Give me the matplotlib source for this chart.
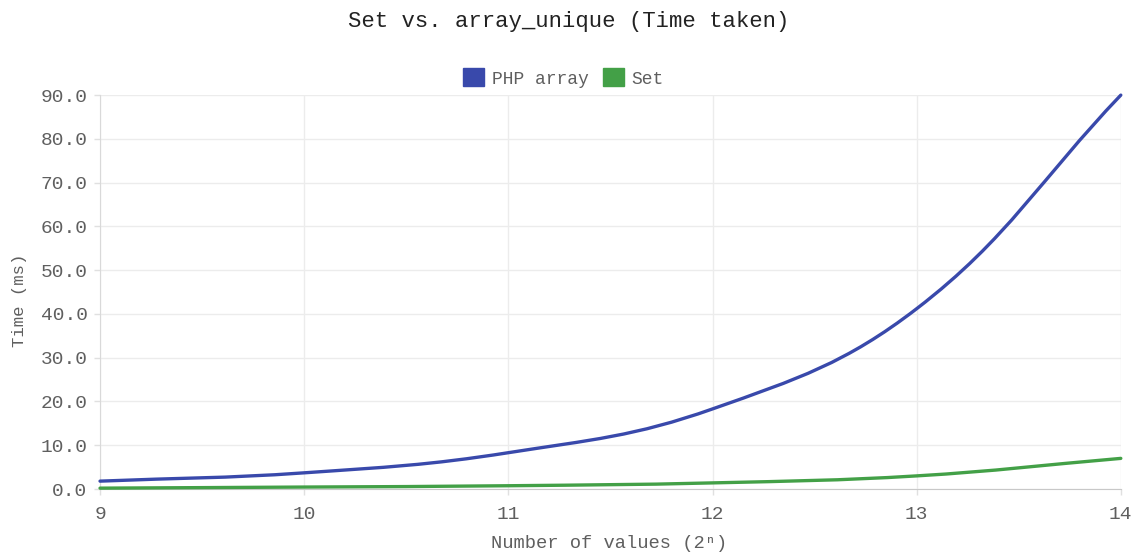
import numpy as np
import matplotlib
matplotlib.use("Agg")
import matplotlib.pyplot as plt
from matplotlib.path import Path
from matplotlib.patches import PathPatch, Patch

# Benchmark results: exponent n (2^n values) vs time in ms
exponents = [9, 10, 11, 12, 13, 14]
php_array_ms = [1.8, 3.7, 8.3, 18.3, 41.2, 90.0]
set_ms = [0.2, 0.45, 0.75, 1.4, 3.0, 7.0]

series_names = ["PHP array", "Set"]
series_colors = ["#3949AB", "#43A047"]
y_ticks = [0, 10, 20, 30, 40, 50, 60, 70, 80, 90]

mono = ["Liberation Mono", "DejaVu Sans Mono"]
plt.rcParams["font.family"] = mono
text_grey = "#5f5f5f"

fig = plt.figure(figsize=(11.38, 5.53), dpi=100)
ax = fig.add_axes([0.0879, 0.1157, 0.897, 0.7123])
ax.set_xlim(exponents[0], exponents[-1])
ax.set_ylim(0, 90)
ax.set_xticks(exponents)
ax.set_yticks(y_ticks)
ax.set_yticklabels([f"{v:.1f}" for v in y_ticks])

for s in ["top", "right"]:
    ax.spines[s].set_visible(False)
ax.spines["left"].set_color("#d9d9d9")
ax.spines["bottom"].set_color("#c8c8c8")
ax.grid(True, color="#ececec", linewidth=1.0)
ax.set_axisbelow(True)
ax.tick_params(axis="both", colors="#e0e0e0", length=4, width=1.0,
               labelcolor=text_grey, labelsize=14)
ax.tick_params(axis="y", pad=5)
ax.tick_params(axis="x", pad=8)

fig.text(20 / 1138, 1 - 300 / 553, "Time (ms)", rotation=90, ha="center",
         va="center", color=text_grey, fontsize=12.5)
fig.text(0.5355, 1 - 543 / 553, "Number of values (2ⁿ)", ha="center", va="center",
         color=text_grey, fontsize=13.5)
fig.text(0.5, 0.962, "Set vs. array_unique (Time taken)", ha="center", va="center",
         fontsize=16, color="#222222")

fig.canvas.draw()


def smooth_path(xs, ys, tension=0.4):
    """Bezier spline through the points, control points computed in pixel space."""
    pts = ax.transData.transform(np.column_stack([xs, ys]))
    n = len(pts)
    verts, codes = [tuple(pts[0])], [Path.MOVETO]
    cps = []
    for i in range(n):
        p0 = pts[max(i - 1, 0)]
        p1 = pts[i]
        p2 = pts[min(i + 1, n - 1)]
        d01 = np.hypot(*(p1 - p0))
        d12 = np.hypot(*(p2 - p1))
        tot = d01 + d12 if d01 + d12 > 0 else 1.0
        fa = tension * d01 / tot
        fb = tension * d12 / tot
        cps.append((p1 - fa * (p2 - p0), p1 + fb * (p2 - p0)))
    for i in range(1, n):
        verts += [tuple(cps[i - 1][1]), tuple(cps[i][0]), tuple(pts[i])]
        codes += [Path.CURVE4] * 3
    return Path(verts, codes)


for ys, color in zip([php_array_ms, set_ms], series_colors):
    path = smooth_path(exponents, ys)
    patch = PathPatch(path, facecolor="none", edgecolor=color, linewidth=2.4,
                      transform=None, capstyle="round", joinstyle="round")
    patch.set_clip_on(False)
    fig.add_artist(patch)

handles = [Patch(facecolor=c, edgecolor=c) for c in series_colors]
fig.legend(handles, series_names, loc="center", bbox_to_anchor=(0.495, 0.859),
           ncol=2, frameon=False, fontsize=13, labelcolor=text_grey,
           handlelength=1.2, handleheight=1.15, handletextpad=0.4, columnspacing=0.8)

fig.savefig("out.png", dpi=100)
